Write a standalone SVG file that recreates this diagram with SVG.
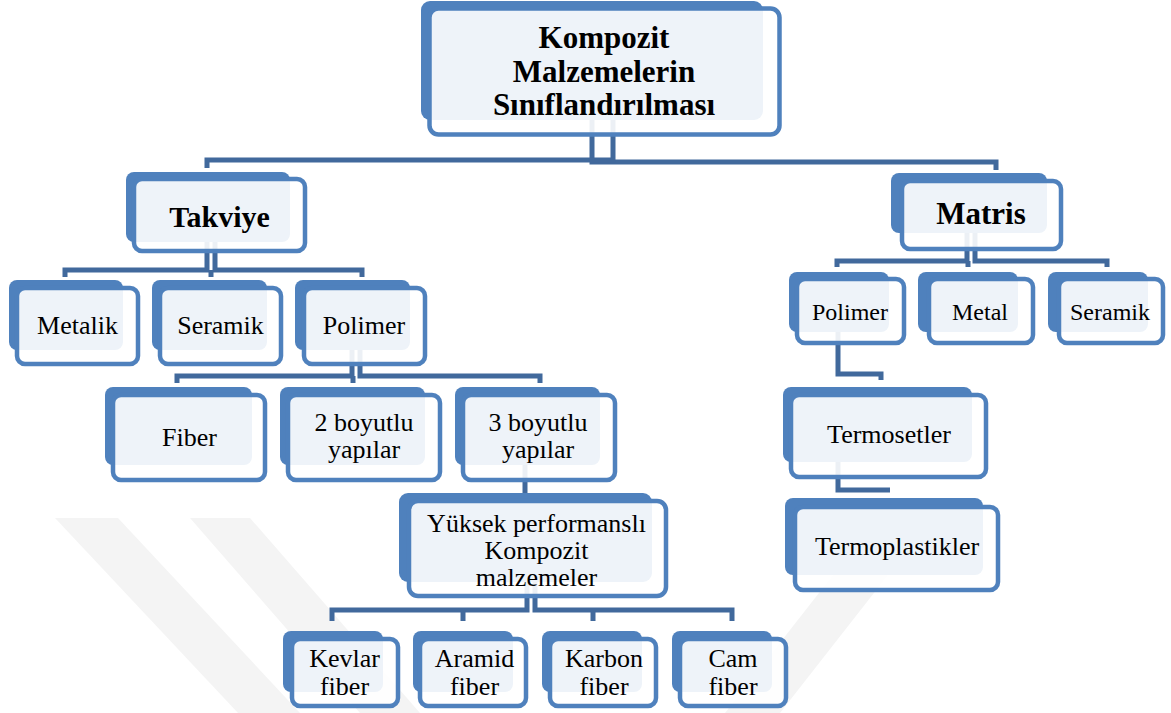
<svg xmlns="http://www.w3.org/2000/svg" width="1171" height="713" viewBox="0 0 1171 713">
<style>
.bk{fill:#4f81bd}
.fr{fill:#ffffff;fill-opacity:0.9;stroke:#4f81bd;stroke-width:4.5}
.cn{fill:none;stroke:#41699c;stroke-width:5}
.wm{fill:#f4f4f4}
text{font-family:"Liberation Serif","Times New Roman",serif;fill:#000;text-anchor:middle}
.t{font-weight:bold;font-size:31px}
.r{font-size:26px}
.s{font-size:24px}
</style>
<rect width="1171" height="713" fill="#fff"/>
<g id="watermark">
<polygon class="wm" points="55,518 118,518 300,713 238,713"/>
<polygon class="wm" points="190,518 250,518 420,713 360,713"/>
<polygon class="wm" points="880,515 935,515 780,713 725,713"/>
</g>
<g id="connectors">
<path class="cn" d="M592,60 V162 H996 V170"/>
<path class="cn" d="M613,60 V160 H207 V168"/>
<path class="cn" d="M207,210 V270 H65 V277"/>
<path class="cn" d="M215,210 V270 H362 V277"/>
<path class="cn" d="M211,270 V277"/>
<path class="cn" d="M967,200 V261 H837 V267"/>
<path class="cn" d="M975,200 V261 H1107 V267"/>
<path class="cn" d="M968,261 V267"/>
<path class="cn" d="M352,320 V376 H177 V383"/>
<path class="cn" d="M360,320 V376 H540 V383"/>
<path class="cn" d="M353,376 V383"/>
<path class="cn" d="M525,430 V493"/>
<path class="cn" d="M527,540 V610 H332 V621"/>
<path class="cn" d="M535,540 V610 H732 V621"/>
<path class="cn" d="M463,610 V621 M593,610 V621"/>
<path class="cn" d="M838,310 V374 H881 V380"/>
<path class="cn" d="M838,430 V490 H890"/>
</g>
<g id="n-root"><rect class="bk" x="421" y="1" width="342" height="119" rx="9"/><rect class="fr" x="429.5" y="8.5" width="350" height="126" rx="9"/>
<text class="t" x="604" y="48">Kompozit</text><text class="t" x="604" y="82">Malzemelerin</text><text class="t" x="604" y="115">Sınıflandırılması</text></g>
<g id="n-takviye"><rect class="bk" x="126" y="172" width="164" height="70" rx="8"/><rect class="fr" x="134" y="179" width="171" height="72" rx="8"/>
<text class="t" x="219.5" y="227" style="font-size:30px">Takviye</text></g>
<g id="n-matris"><rect class="bk" x="891" y="173" width="156" height="60" rx="8"/><rect class="fr" x="902" y="181" width="159" height="68" rx="8"/>
<text class="t" x="981" y="224">Matris</text></g>
<g id="n-metalik"><rect class="bk" x="9" y="280" width="114" height="70" rx="8"/><rect class="fr" x="17" y="288" width="121" height="76" rx="8"/>
<text class="r" x="77.5" y="334">Metalik</text></g>
<g id="n-seramik1"><rect class="bk" x="152" y="280" width="115" height="70" rx="8"/><rect class="fr" x="160" y="288" width="121" height="76" rx="8"/>
<text class="r" x="220.5" y="334">Seramik</text></g>
<g id="n-polimer1"><rect class="bk" x="295" y="280" width="115" height="70" rx="8"/><rect class="fr" x="304" y="288" width="121" height="76" rx="8"/>
<text class="r" x="364" y="334">Polimer</text></g>
<g id="n-polimer2"><rect class="bk" x="789" y="272" width="100" height="60" rx="8"/><rect class="fr" x="797" y="279" width="107" height="64" rx="8"/>
<text class="s" x="850" y="320">Polimer</text></g>
<g id="n-metal"><rect class="bk" x="918" y="272" width="100" height="60" rx="8"/><rect class="fr" x="929" y="279" width="104" height="64" rx="8"/>
<text class="s" x="980" y="320">Metal</text></g>
<g id="n-seramik2"><rect class="bk" x="1048" y="272" width="100" height="60" rx="8"/><rect class="fr" x="1059" y="279" width="104" height="64" rx="8"/>
<text class="s" x="1110" y="320">Seramik</text></g>
<g id="n-fiber"><rect class="bk" x="105" y="387" width="147" height="78" rx="8"/><rect class="fr" x="113" y="395" width="152" height="85" rx="8"/>
<text class="r" x="189.5" y="446">Fiber</text></g>
<g id="n-2boyutlu"><rect class="bk" x="280" y="387" width="145" height="78" rx="8"/><rect class="fr" x="288" y="395" width="152" height="85" rx="8"/>
<text class="r" x="364" y="431">2 boyutlu</text><text class="r" x="364" y="458">yapılar</text></g>
<g id="n-3boyutlu"><rect class="bk" x="455" y="387" width="145" height="78" rx="8"/><rect class="fr" x="463" y="395" width="152" height="85" rx="8"/>
<text class="r" x="538" y="431">3 boyutlu</text><text class="r" x="538" y="458">yapılar</text></g>
<g id="n-yuksek"><rect class="bk" x="399" y="493" width="253" height="89" rx="9"/><rect class="fr" x="409" y="501" width="257" height="95" rx="9"/>
<text class="r" x="536.5" y="532">Yüksek performanslı</text><text class="r" x="536.5" y="559">Kompozit</text><text class="r" x="536.5" y="586">malzemeler</text></g>
<g id="n-kevlar"><rect class="bk" x="283" y="631" width="100" height="61" rx="8"/><rect class="fr" x="292" y="639" width="106" height="67" rx="8"/>
<text class="r" x="344.5" y="667">Kevlar</text><text class="r" x="344.5" y="695">fiber</text></g>
<g id="n-aramid"><rect class="bk" x="413" y="631" width="100" height="61" rx="8"/><rect class="fr" x="420" y="639" width="106" height="67" rx="8"/>
<text class="r" x="474.5" y="667">Aramid</text><text class="r" x="474.5" y="695">fiber</text></g>
<g id="n-karbon"><rect class="bk" x="542" y="631" width="100" height="61" rx="8"/><rect class="fr" x="550" y="639" width="106" height="67" rx="8"/>
<text class="r" x="604" y="667">Karbon</text><text class="r" x="604" y="695">fiber</text></g>
<g id="n-cam"><rect class="bk" x="672" y="631" width="100" height="61" rx="8"/><rect class="fr" x="680" y="639" width="106" height="67" rx="8"/>
<text class="r" x="733" y="667">Cam</text><text class="r" x="733" y="695">fiber</text></g>
<g id="n-termosetler"><rect class="bk" x="783" y="387" width="189" height="75" rx="8"/><rect class="fr" x="791" y="395" width="195" height="82" rx="8"/>
<text class="r" x="889" y="443">Termosetler</text></g>
<g id="n-termoplastikler"><rect class="bk" x="785" y="498" width="198" height="77" rx="8"/><rect class="fr" x="795" y="507" width="203" height="83" rx="8"/>
<text class="r" x="897" y="555">Termoplastikler</text></g>
</svg>
